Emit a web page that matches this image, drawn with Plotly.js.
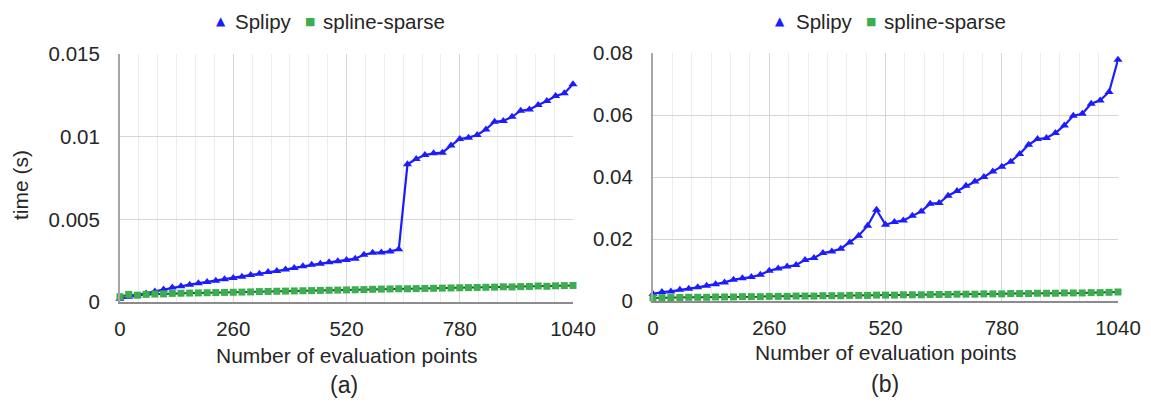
<!DOCTYPE html>
<html>
<head>
<meta charset="utf-8">
<script src="https://cdn.plot.ly/plotly-3.0.1.min.js"></script>
<style>html,body{margin:0;padding:0;background:#fff;}#chart{width:1151px;height:402px;}</style>
</head>
<body>
<div id="chart"></div>
<script>
// ---- data ----
const evalPoints = [0,20,40,60,80,100,120,140,160,180,200,220,240,260,280,300,320,340,360,380,400,420,440,460,480,500,520,540,560,580,600,620,640,660,680,700,720,740,760,780,800,820,840,860,880,900,920,940,960,980,1000,1020,1040];

const splipyA = [0.00020,0.00032,0.00040,0.00052,0.00064,0.00075,0.00087,0.00095,0.00105,0.00113,
 0.00121,0.00129,0.00137,0.00145,0.00153,0.00163,0.00171,0.00181,0.00187,0.00196,
 0.00206,0.00216,0.00226,0.00232,0.00240,0.00246,0.00254,0.00262,0.00286,0.00298,
 0.00300,0.00306,0.00319,0.00833,0.00865,0.00889,0.00899,0.00903,0.00946,0.00986,
 0.00994,0.01010,0.01044,0.01090,0.01095,0.01120,0.01157,0.01165,0.01192,0.01216,
 0.01246,0.01262,0.01317];

const sparseA = [0.00032,0.00046,0.00041,0.00046,0.00048,0.00049,0.00052,0.00053,0.00054,0.00055,
 0.00056,0.00057,0.00058,0.00059,0.00060,0.00061,0.00063,0.00064,0.00065,0.00066,
 0.00067,0.00068,0.00069,0.00070,0.00071,0.00072,0.00073,0.00074,0.00075,0.00077,
 0.00078,0.00079,0.00080,0.00080,0.00081,0.00082,0.00083,0.00084,0.00085,0.00086,
 0.00087,0.00088,0.00089,0.00090,0.00092,0.00091,0.00093,0.00094,0.00097,0.00095,
 0.00098,0.00099,0.00100];

const splipyB = [0.00226,0.0029,0.0031,0.00365,0.00397,0.0044,0.00494,0.00537,0.0060,0.00687,
 0.0073,0.00774,0.00848,0.00977,0.01052,0.01116,0.01161,0.01323,0.01387,0.01548,
 0.0160,0.01687,0.0189,0.02106,0.02429,0.02945,0.02461,0.02548,0.0260,0.02752,
 0.0289,0.03139,0.03161,0.03397,0.03545,0.03719,0.03858,0.0400,0.04181,0.04332,
 0.04494,0.04742,0.05042,0.05226,0.05258,0.05419,0.05665,0.05977,0.06042,0.06365,
 0.06471,0.06742,0.07784];

const sparseB = [0.0010,0.0011,0.0011,0.0011,0.0012,0.0012,0.0012,0.0013,0.0013,0.0013,
 0.0014,0.0014,0.0014,0.0015,0.0015,0.0015,0.0016,0.0016,0.0016,0.0017,
 0.0017,0.0017,0.0018,0.0018,0.0018,0.0019,0.0019,0.0019,0.0020,0.0020,
 0.0020,0.0021,0.0021,0.0021,0.0022,0.0022,0.0022,0.0023,0.0023,0.0023,
 0.0024,0.0024,0.0024,0.0025,0.0025,0.0025,0.0026,0.0026,0.0026,0.0027,
 0.0027,0.0028,0.0029];

const xTickVals = [0,260,520,780,1040];
const xTickText = ["0","260","520","780","1040"];
const yTickValsA = [0,0.005,0.01,0.015];
const yTickTextA = ["0","0.005","0.01","0.015"];
const yTickValsB = [0,0.02,0.04,0.06,0.08];
const yTickTextB = ["0","0.02","0.04","0.06","0.08"];
const seriesNames = ["Splipy","spline-sparse"];
const xTitle = "Number of evaluation points";
const yTitle = "time (s)";
const panelLabels = ["(a)","(b)"];

// ---- styling ----
const W = 1151, H = 402;
const BLUE = '#1c1cff', GREEN = '#3bae50', GREENLINE = '#2b4f30';
const TXT = '#262626';
const FONT = 'Liberation Sans, Arial, sans-serif';
const px = v => v / W, py = v => 1 - v / H;

function traces(y1, y2, xa, ya) {
  return [
    {x: evalPoints, y: y1, xaxis: xa, yaxis: ya, type: 'scatter', mode: 'lines+markers', name: seriesNames[0],
     line: {color: BLUE, width: 2.2}, marker: {symbol: 'triangle-up', size: 8, color: BLUE}, cliponaxis: false},
    {x: evalPoints, y: y2, xaxis: xa, yaxis: ya, type: 'scatter', mode: 'lines+markers', name: seriesNames[1],
     line: {color: GREENLINE, width: 2}, marker: {symbol: 'square', size: 7, color: GREEN}, cliponaxis: false}
  ];
}

const data = [...traces(splipyA, sparseA, 'x', 'y'), ...traces(splipyB, sparseB, 'x2', 'y2')];

function xAxis(d0, d1, anchor) {
  return {
    domain: [px(d0), px(d1)], anchor: anchor, range: [0, 1040],
    tickmode: 'array', tickvals: xTickVals, ticktext: xTickText, ticks: '',
    ticklabelstandoff: 8,
    showgrid: true, gridcolor: '#d6d6d6', gridwidth: 1,
    minor: {tickmode: 'linear', tick0: 0, dtick: 1040 / 24, showgrid: true, gridcolor: '#ececec', gridwidth: 1, ticks: ''},
    showline: true, linecolor: '#8c8c8c', linewidth: 1.5, zeroline: false,
    tickfont: {family: FONT, size: 20.5, color: TXT}, fixedrange: true
  };
}
function yAxis(top, bot, anchor, rng, tv, tt) {
  return {
    domain: [py(bot), py(top)], anchor: anchor, range: rng,
    tickmode: 'array', tickvals: tv, ticktext: tt, ticks: '',
    ticklabelstandoff: 14,
    showgrid: true, gridcolor: '#d6d6d6', gridwidth: 1,
    showline: true, linecolor: '#a6a6a6', linewidth: 2, zeroline: false,
    tickfont: {family: FONT, size: 20.5, color: TXT}, fixedrange: true
  };
}

function ann(x, y, text, opts) {
  return Object.assign({xref: 'paper', yref: 'paper', x: px(x), y: py(y), text: text, showarrow: false,
    xanchor: 'center', yanchor: 'middle', font: {family: FONT, size: 21, color: TXT}}, opts || {});
}

const annotations = [
  ann(346.5, 355, xTitle),
  ann(885.5, 352, xTitle),
  ann(344, 385, panelLabels[0], {font: {family: FONT, size: 23, color: TXT}}),
  ann(885, 384, panelLabels[1], {font: {family: FONT, size: 23, color: TXT}}),
  ann(21, 185, yTitle, {textangle: -90}),
  // legend panel a
  ann(221, 21, '▲', {font: {family: 'DejaVu Sans', size: 12, color: BLUE}}),
  ann(233, 22, seriesNames[0], {xanchor: 'left', font: {family: FONT, size: 20.5, color: TXT}}),
  ann(310, 21, '■', {font: {family: 'DejaVu Sans', size: 11, color: GREEN}}),
  ann(321, 22, seriesNames[1], {xanchor: 'left', font: {family: FONT, size: 20.5, color: TXT}}),
  // legend panel b
  ann(780, 21, '▲', {font: {family: 'DejaVu Sans', size: 12, color: BLUE}}),
  ann(794, 22, seriesNames[0], {xanchor: 'left', font: {family: FONT, size: 20.5, color: TXT}}),
  ann(871, 21, '■', {font: {family: 'DejaVu Sans', size: 11, color: GREEN}}),
  ann(882, 22, seriesNames[1], {xanchor: 'left', font: {family: FONT, size: 20.5, color: TXT}})
];

const layout = {
  width: W, height: H,
  margin: {l: 0, r: 0, t: 0, b: 0, pad: 0},
  paper_bgcolor: '#ffffff', plot_bgcolor: '#ffffff',
  showlegend: false,
  font: {family: FONT, size: 20, color: TXT},
  xaxis: xAxis(120, 573, 'y'),
  yaxis: yAxis(54, 302, 'x', [0, 0.015], yTickValsA, yTickTextA),
  xaxis2: xAxis(653, 1118, 'y2'),
  yaxis2: yAxis(53, 301, 'x2', [0, 0.08], yTickValsB, yTickTextB),
  annotations: annotations
};

Plotly.newPlot('chart', data, layout, {staticPlot: true, displayModeBar: false});
</script>
</body>
</html>
